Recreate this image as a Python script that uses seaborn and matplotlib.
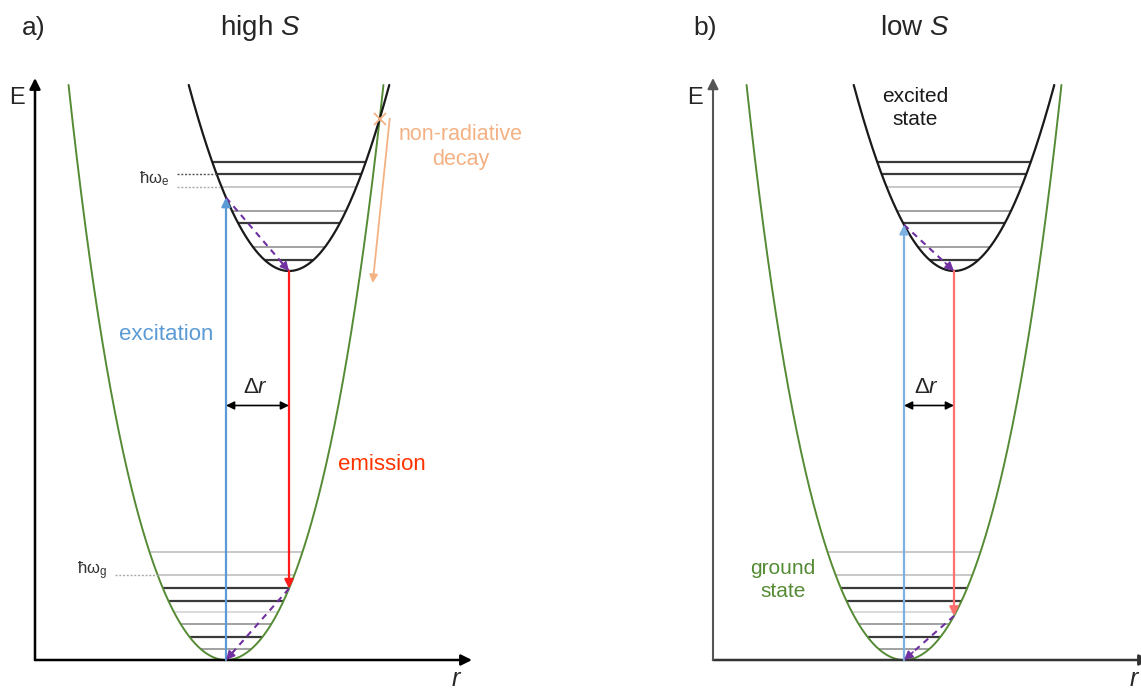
import numpy as np
import pandas as pd
import matplotlib
matplotlib.use("Agg")
import matplotlib.pyplot as plt
import seaborn as sns

# ---- configuration-coordinate model (arbitrary units) ----
ground_r0 = 1.91          # ground-state equilibrium coordinate
ground_k2 = 1.70          # harmonic term of the ground-state curve
ground_k4 = 0.25          # quartic term of the ground-state curve
excited_k = 1.85          # curvature of the excited-state parabola
excited_E0 = 3.89         # excited-state minimum energy
excited_r0 = {"a": 2.54, "b": 2.41}   # excited-state equilibrium (high S / low S)
E_top = 5.75              # curves are drawn up to this energy

panel_keys = ["a", "b"]
panel_titles = {"a": "high $S$", "b": "low $S$"}

# vibrational levels (energy above each minimum) and their shade
ground_levels = [1.08, 0.85, 0.72, 0.59, 0.48, 0.36, 0.23, 0.11]
ground_shade = ["light", "light", "dark", "dark", "faint", "mid", "dark", "mid"]
excited_levels = [1.09, 0.97, 0.84, 0.60, 0.48, 0.24, 0.11]
excited_shade = ["dark", "dark", "light", "mid", "dark", "mid", "dark"]

shade_color = {"dark": "#3a3a3a", "mid": "#9a9a9a", "light": "#c4c4c4", "faint": "#d8d8d8"}
shade_lw = {"dark": 1.6, "mid": 1.3, "light": 1.3, "faint": 1.3}

GREEN = "#558b35"
BLUE = {"a": "#5b9bd5", "b": "#7fb1e0"}
RED = {"a": "#ff1a1a", "b": "#ff6f6f"}
PURPLE = "#7030a0"
ORANGE = "#f4b183"
FONT = "Liberation Sans"

sns.set_theme(style="white")
plt.rcParams["font.family"] = [FONT, "DejaVu Sans"]
plt.rcParams["mathtext.fontset"] = "custom"
plt.rcParams["mathtext.rm"] = FONT
plt.rcParams["mathtext.it"] = FONT + ":italic"


def ground(r):
    x = r - ground_r0
    return ground_k2 * x ** 2 + ground_k4 * x ** 4


def excited(r, r0):
    return excited_E0 + excited_k * (r - r0) ** 2


_xg = np.linspace(0, 2.5, 5001)
_Eg = ground(ground_r0 + _xg)


def ground_halfwidth(E):
    return np.interp(E, _Eg, _xg)


def excited_halfwidth(dE):
    return np.sqrt(dE / excited_k)


def arrow(ax, tail, tip, color, lw=1.5, ms=12, style="-|>"):
    ax.annotate("", xy=tip, xytext=tail, annotation_clip=False,
                arrowprops=dict(arrowstyle=style, color=color, lw=lw,
                                mutation_scale=ms, shrinkA=0, shrinkB=0))


def dashed_arrow(ax, tail, tip, color):
    ax.plot([tail[0], tip[0]], [tail[1], tip[1]], ls=(0, (3, 2.5)), color=color, lw=1.5)
    t = np.array(tip)
    d = t - np.array(tail)
    start = t - 0.12 * d / np.hypot(*d)
    arrow(ax, tuple(start), tip, color, lw=1.2, ms=13)


fig = plt.figure(figsize=(11.41, 6.93), dpi=100)
axes = {
    "a": fig.add_axes([0, 0, 570 / 1141, 1]),
    "b": fig.add_axes([570 / 1141, 0, 571 / 1141, 1]),
}
axes["a"].set_xlim(-0.35, 5.35)
axes["b"].set_xlim(-1.43, 4.28)

for key in panel_keys:
    ax = axes[key]
    ax.set_ylim(-0.33, 6.60)
    ax.axis("off")
    r_ex = excited_r0[key]

    # coordinate axes
    axis_color = "black" if key == "a" else "#333333"
    arrow(ax, (0, 0), (4.37, 0), axis_color, lw=1.8, ms=16)
    arrow(ax, (0, 0), (0, 5.82), axis_color if key == "a" else "#555555",
          lw=1.8 if key == "a" else 1.5, ms=16)
    ax.text(-0.18, 5.62, "E", fontsize=17, ha="center", va="center")
    ax.text(4.22, -0.315, "$r$", fontsize=18, ha="center", va="bottom")

    # vibrational levels of the ground state
    for E, s in zip(ground_levels, ground_shade):
        hw = ground_halfwidth(E)
        ax.plot([ground_r0 - hw, ground_r0 + hw], [E, E],
                color=shade_color[s], lw=shade_lw[s], solid_capstyle="butt")
    # vibrational levels of the excited state
    for dE, s in zip(excited_levels, excited_shade):
        hw = excited_halfwidth(dE)
        ax.plot([r_ex - hw, r_ex + hw], [excited_E0 + dE] * 2,
                color=shade_color[s], lw=shade_lw[s], solid_capstyle="butt")

    # potential curves
    hw_top = ground_halfwidth(E_top)
    rg = np.linspace(ground_r0 - hw_top, ground_r0 + hw_top, 600)
    sns.lineplot(x=rg, y=ground(rg), ax=ax, color=GREEN, linewidth=1.4,
                 sort=False, estimator=None)
    hw_top_ex = excited_halfwidth(E_top - excited_E0)
    re = np.linspace(r_ex - hw_top_ex, r_ex + hw_top_ex, 600)
    sns.lineplot(x=re, y=excited(re, r_ex), ax=ax, color="#1a1a1a", linewidth=1.6,
                 sort=False, estimator=None)

    # transitions
    E_abs = excited(ground_r0, r_ex)
    E_emi = ground(r_ex)
    arrow(ax, (ground_r0, 0), (ground_r0, E_abs), BLUE[key], lw=1.6, ms=13)
    arrow(ax, (r_ex, excited_E0), (r_ex, E_emi), RED[key], lw=1.6, ms=13)
    dashed_arrow(ax, (ground_r0, E_abs), (r_ex, excited_E0), PURPLE)
    dashed_arrow(ax, (r_ex, E_emi), (ground_r0, 0), PURPLE)

    # displacement
    y_dr = 2.545
    arrow(ax, (ground_r0, y_dr), (r_ex, y_dr), "black", lw=1.2, ms=12, style="<|-|>")
    ax.text((ground_r0 + r_ex) / 2 - 0.02, y_dr + 0.18, r"$\Delta r$", fontsize=16,
            ha="center", va="center")

    ax.text(-0.13 if key == "a" else -0.20, 6.32, key + ")", fontsize=19,
            ha="left", va="center")
    ax.text(2.25 if key == "a" else 2.02, 6.32, panel_titles[key], fontsize=20,
            ha="center", va="center")

# ---- extra labels for panel a ----
ax = axes["a"]
r_ex = excited_r0["a"]
for dE, col in [(excited_levels[1], "#555555"), (excited_levels[2], "#aaaaaa")]:
    hw = excited_halfwidth(dE)
    ax.plot([1.42, r_ex - hw], [excited_E0 + dE] * 2, ls=(0, (1.5, 1.2)), color=col, lw=1.0)
ax.text(1.19, 4.81, r"ħω$_\mathrm{e}$", fontsize=12, ha="center", va="center",
        color="#333333")
hw = ground_halfwidth(ground_levels[1])
ax.plot([0.80, ground_r0 - hw], [ground_levels[1]] * 2, ls=(0, (1.5, 1.2)),
        color="#aaaaaa", lw=1.0)
ax.text(0.57, 0.89, r"ħω$_\mathrm{g}$", fontsize=12, ha="center", va="center",
        color="#333333")

ax.text(1.31, 3.25, "excitation", fontsize=16, color=BLUE["a"], ha="center", va="center")
ax.text(3.47, 1.95, "emission", fontsize=16, color="#ff3300", ha="center", va="center")

# crossing of the two curves -> non-radiative path
rr = np.linspace(r_ex, r_ex + 1.2, 4001)
diff = excited(rr, r_ex) - ground(rr)
i = np.argmax(diff < 0)
r_x, E_x = rr[i], ground(rr[i])
ax.plot([r_x], [E_x], marker="x", color=ORANGE, ms=9, mew=1.3)
arrow(ax, (r_x + 0.10, E_x), (r_x - 0.07, 3.77), ORANGE, lw=1.3, ms=12)
ax.text(4.26, 5.13, "non-radiative\ndecay", fontsize=15.5, color=ORANGE,
        ha="center", va="center", linespacing=1.2)

# ---- extra labels for panel b ----
ax = axes["b"]
ax.text(2.02, 5.52, "excited\nstate", fontsize=15, color="#1a1a1a",
        ha="center", va="center", linespacing=1.25)
ax.text(0.70, 0.80, "ground\nstate", fontsize=15, color=GREEN,
        ha="center", va="center", linespacing=1.25)

fig.savefig("out.png", dpi=100)
